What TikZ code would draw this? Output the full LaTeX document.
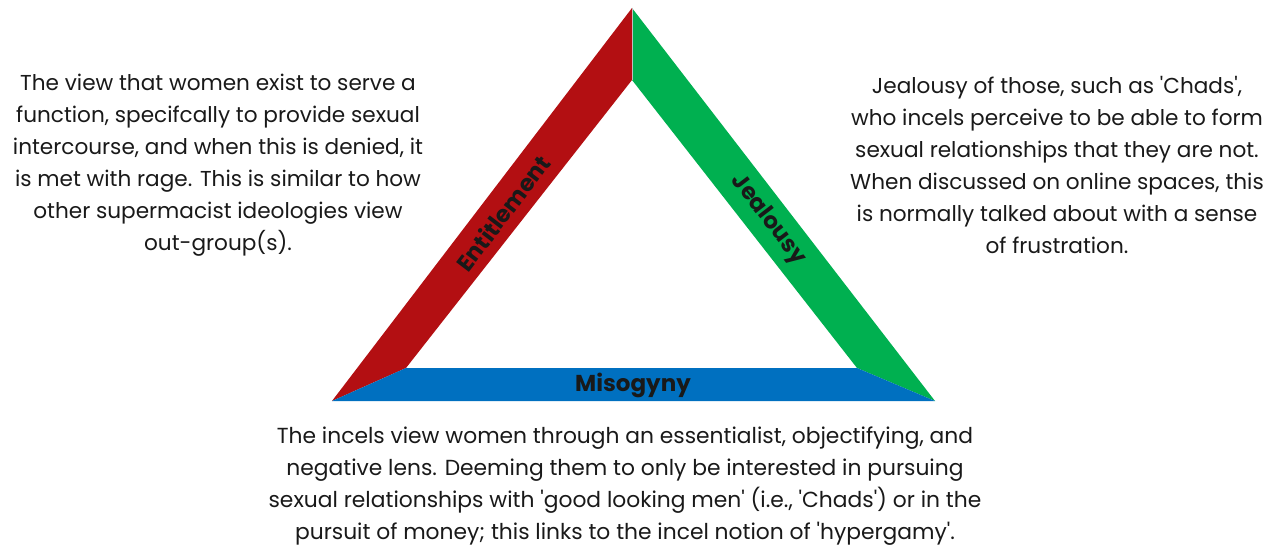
\documentclass[tikz,border=0pt]{standalone}
\usepackage{fontspec}
\setmainfont{Poppins}[Ligatures=TeXOff]
\usepackage{xcolor}
\definecolor{entred}{HTML}{B30F12}
\definecolor{jealgreen}{HTML}{00B050}
\definecolor{misblue}{HTML}{0070C0}
\tikzset{
    desc/.style={align=center, text=black!90, font=\fontsize{21.6}{32}\selectfont},
    sidelabel/.style={font=\fontsize{23}{26}\selectfont\bfseries, text=black!90}
}

\begin{document}
\begin{tikzpicture}[x=1pt, y=1pt]
    \useasboundingbox (0,0) rectangle (1275,547);
    \coordinate (A) at (632,539);   % apex
    \coordinate (Ai) at (632,467);
    \coordinate (L) at (332,146);
    \coordinate (Li) at (406,179);
    \coordinate (R) at (935,146);
    \coordinate (Ri) at (857,179);
    \fill[entred] (A) -- (Ai) -- (Li) -- (L) -- cycle;
    \fill[jealgreen] (A) -- (R) -- (Ri) -- (Ai) -- cycle;
    \fill[misblue] (L) -- (Li) -- (Ri) -- (R) -- cycle;
    \draw[gray!50, line width=0.6] (A) -- (Ai);
    \node[sidelabel, rotate=52.6] (ent) at (503,334) {Entitlement};
    \node[sidelabel, rotate=-52.4] (jeal) at (768,327) {Jealousy};
    \node[sidelabel] (mis) at (633,162) {Misogyny};
    \node[desc] (entdesc) at (218,382) {The view that women exist to serve a\\
        function, specifcally to provide sexual\\
        intercourse, and when this is denied, it\\
        is met with rage. This is similar to how\\
        other supermacist ideologies view\\
        out-group(s).};
    \node[desc] (jealdesc) at (1057,382) {Jealousy of those, such as 'Chads',\\
        who incels perceive to be able to form\\
        sexual relationships that they are not.\\
        When discussed on online spaces, this\\
        is normally talked about with a sense\\
        of frustration.};
    \node[desc, font=\fontsize{21.8}{32}\selectfont] (misdesc) at (625,61) {The incels view women through an essentialist, objectifying, and\\
        negative lens. Deeming them to only be interested in pursuing\\
        sexual relationships with 'good looking men' (i.e., 'Chads') or in the\\
        pursuit of money; this links to the incel notion of 'hypergamy'.};
\end{tikzpicture}
\end{document}
